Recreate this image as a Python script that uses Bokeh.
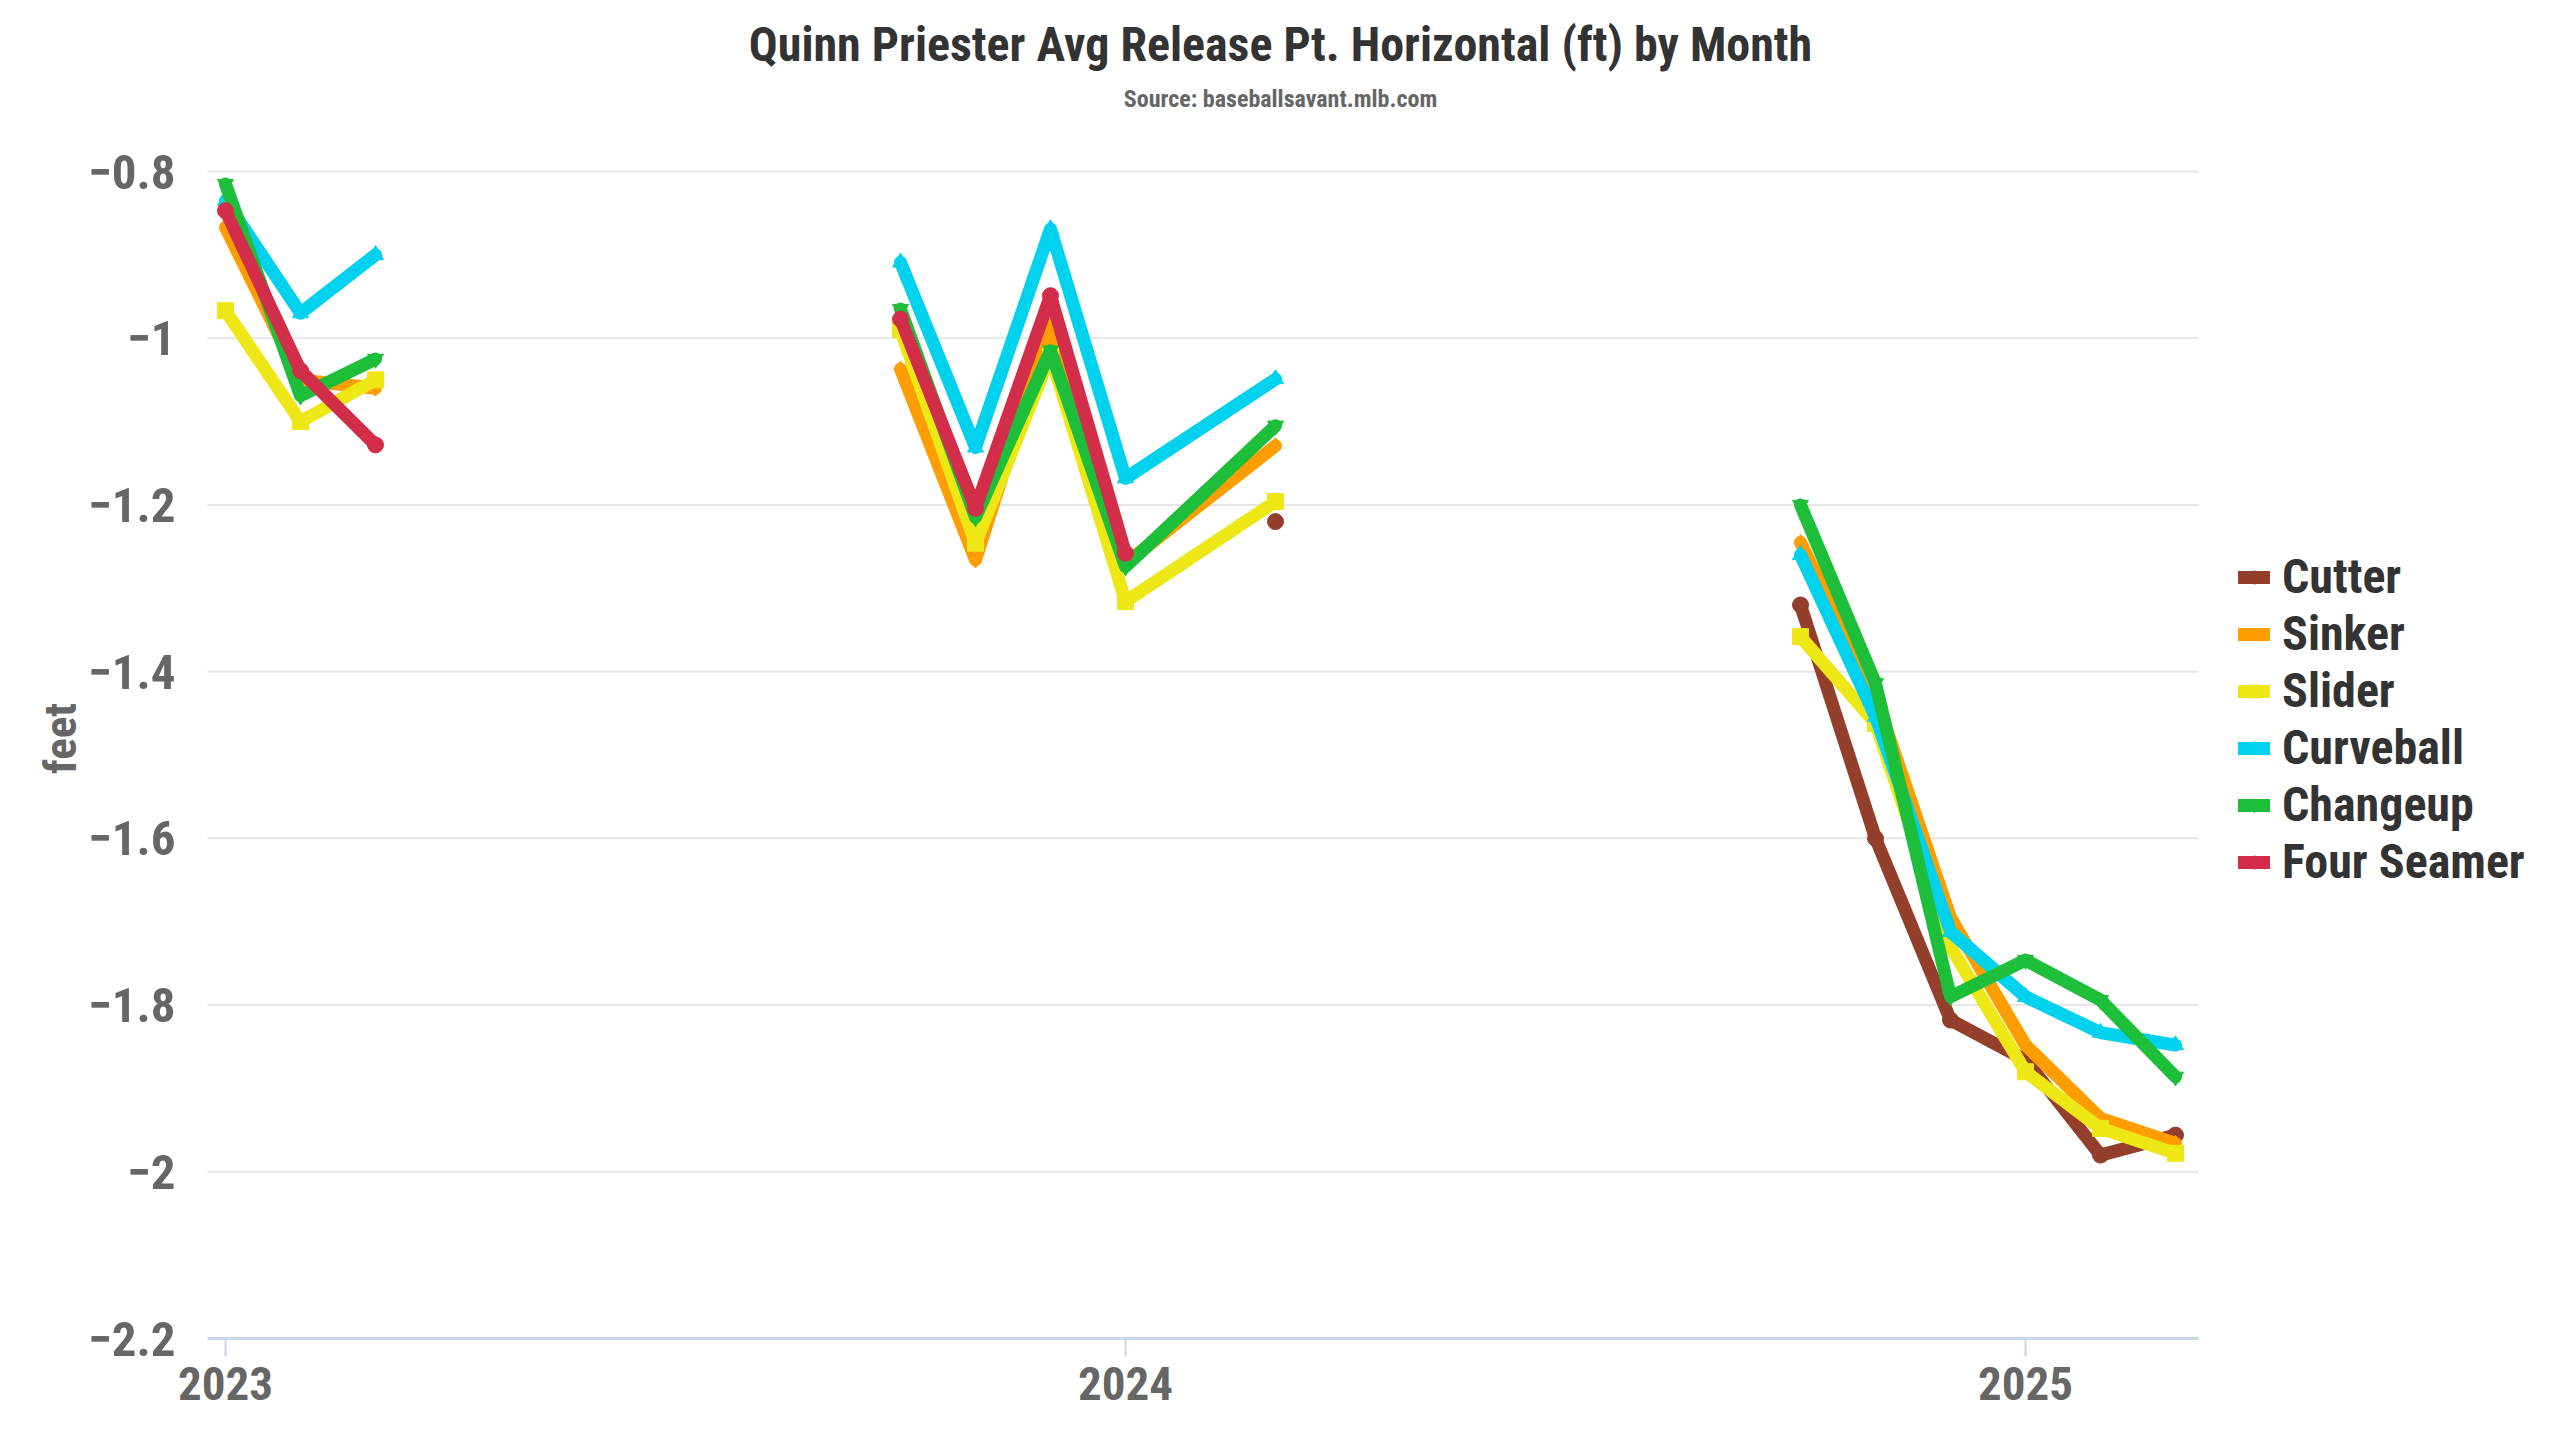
import math
from bokeh.plotting import figure
from bokeh.models import FixedTicker, Legend, LegendItem, Label
from bokeh.core.properties import value
from bokeh.embed import file_html
from bokeh.resources import INLINE

# ---- data -------------------------------------------------------------
months = ["2023-01", "2023-02", "2023-03",
          "2023-10", "2023-11", "2023-12", "2024-01", "2024-03",
          "2024-10", "2024-11", "2024-12", "2025-01", "2025-02", "2025-03"]

cutter      = [None, None, None,
               None, None, None, None, -1.22,
               -1.32, -1.60, -1.818, -1.866, -1.98, -1.956]
sinker      = [-0.867, -1.05, -1.06,
               -1.037, -1.266, -0.985, -1.27, -1.129,
               -1.245, -1.43, -1.695, -1.848, -1.936, -1.966]
slider      = [-0.967, -1.10, -1.05,
               -0.99, -1.246, -1.02, -1.316, -1.196,
               -1.358, -1.462, -1.73, -1.88, -1.948, -1.978]
curveball   = [-0.835, -0.97, -0.90,
               -0.909, -1.131, -0.869, -1.168, -1.049,
               -1.26, -1.454, -1.712, -1.79, -1.833, -1.848]
changeup    = [-0.815, -1.069, -1.025,
               -0.965, -1.215, -1.015, -1.274, -1.105,
               -1.20, -1.414, -1.79, -1.746, -1.794, -1.886]
four_seamer = [-0.847, -1.039, -1.128,
               -0.977, -1.204, -0.949, -1.258, None,
               None, None, None, None, None, None]

series_names = ["Cutter", "Sinker", "Slider", "Curveball", "Changeup", "Four Seamer"]
series_values = [cutter, sinker, slider, curveball, changeup, four_seamer]
series_colors = ["#933F2C", "#FE9D00", "#EEE716", "#00D1ED", "#1DBE3A", "#D22D49"]
series_markers = ["circle", "diamond", "square", "triangle", "inverted_triangle", "circle"]

x_ticks = [2023, 2024, 2025]
x_tick_labels = ["2023", "2024", "2025"]
y_ticks = [-2.2, -2, -1.8, -1.6, -1.4, -1.2, -1, -0.8]
y_tick_labels = ["\u22122.2", "\u22122", "\u22121.8", "\u22121.6", "\u22121.4", "\u22121.2", "\u22121", "\u22120.8"]

title_text = "Quinn Priester Avg Release Pt. Horizontal (ft) by Month"
subtitle_text = "Source: baseballsavant.mlb.com"
y_label = "feet"

# ---- layout / style ---------------------------------------------------
FONT = "Roboto Condensed, Liberation Sans Narrow, DejaVu Sans Condensed, Roboto"
W, H = 2556, 1436
PLOT_LEFT, PLOT_RIGHT, PLOT_TOP, PLOT_BOTTOM = 207, 2198, 171, 1338   # pixel box of the drawn plot area
TICK_LEN = 18
FRAME_BOTTOM = PLOT_BOTTOM + 22          # frame reaches a little below the axis line
FB = H - FRAME_BOTTOM
PX_PER_YEAR = 900.0
Y_LO, Y_HI = y_ticks[0], y_ticks[-1]
PX_PER_UNIT = (PLOT_BOTTOM - PLOT_TOP) / (Y_HI - Y_LO)

def px_to_x(px):
    return 2023 + (px - 225) / PX_PER_YEAR

def px_to_y(py):
    return Y_HI - (py - PLOT_TOP) / PX_PER_UNIT

X0, X_PLOT_END = px_to_x(PLOT_LEFT), px_to_x(PLOT_RIGHT)

def month_to_x(m):
    return int(m[:4]) + (int(m[5:7]) - 1) / 12.0

xvals = [month_to_x(m) for m in months]

p = figure(width=W, height=H, x_range=(px_to_x(0), px_to_x(W)),
           y_range=(px_to_y(FRAME_BOTTOM), px_to_y(0)),
           output_backend="svg", toolbar_location=None, title=None,
           min_border_left=0, min_border_right=0, min_border_top=0, min_border_bottom=FB)
p.outline_line_color = None
p.background_fill_color = "white"
p.border_fill_color = "white"

# x axis (library axis, below the frame): its labels
p.xaxis.ticker = FixedTicker(ticks=x_ticks)
p.xaxis.major_label_overrides = {t: l for t, l in zip(x_ticks, x_tick_labels)}
p.xaxis.axis_line_color = None
p.xaxis.major_tick_line_color = None
p.xaxis.major_tick_out = 0
p.xaxis.major_tick_in = 0
p.xaxis.minor_tick_line_color = None
p.xaxis.major_label_text_font = FONT
p.xaxis.major_label_text_font_style = "bold"
p.xaxis.major_label_text_font_size = "47px"
p.xaxis.major_label_text_color = "#666666"
p.xaxis.major_label_standoff = 6

# y axis: labels drawn at the tick values through the y scale
p.yaxis.visible = False
p.xgrid.grid_line_color = None
p.ygrid.grid_line_color = None

p.text(x=[px_to_x(175)] * len(y_ticks), y=y_ticks, text=y_tick_labels,
       text_align="right", text_baseline="middle",
       text_font=value(FONT), text_font_style="bold", text_font_size=value("49px"),
       text_color="#666666")
p.text(x=[px_to_x(60)], y=[px_to_y(738)], text=[y_label], angle=math.pi / 2,
       text_align="center", text_baseline="middle",
       text_font=value(FONT), text_font_style="bold", text_font_size=value("45px"),
       text_color="#666666")

# grid lines, axis line and x tick marks, limited to the plot area
grid_ticks = y_ticks[1:]
p.segment(x0=[X0] * len(grid_ticks), x1=[X_PLOT_END] * len(grid_ticks),
          y0=grid_ticks, y1=grid_ticks, line_color="#e6e6e6", line_width=2)
p.segment(x0=[X0], x1=[X_PLOT_END], y0=[Y_LO], y1=[Y_LO],
          line_color="#ccd6eb", line_width=3)
p.segment(x0=x_ticks, x1=x_ticks, y0=[Y_LO] * len(x_ticks),
          y1=[px_to_y(PLOT_BOTTOM + TICK_LEN)] * len(x_ticks),
          line_color="#ccd6eb", line_width=2)

# series
legend_items = []
for name, vals, color, marker in zip(series_names, series_values, series_colors, series_markers):
    lx, ly = [], []
    prev_x = None
    for x, v in zip(xvals, vals):
        if prev_x is not None and x - prev_x > 0.25:
            lx.append(float("nan")); ly.append(float("nan"))
        lx.append(x)
        ly.append(float("nan") if v is None else v)
        prev_x = x
    lr = p.line(lx, ly, line_width=13, line_color=color, line_join="round", line_cap="round")
    mx = [x for x, v in zip(xvals, vals) if v is not None]
    my = [v for v in vals if v is not None]
    sr = p.scatter(mx, my, marker=marker, size=16, fill_color=color, line_color=color)
    legend_items.append(LegendItem(label=name, renderers=[lr, sr]))

legend = Legend(items=legend_items, location=(2238, FRAME_BOTTOM - 890), orientation="vertical",
                padding=0, margin=0, spacing=0,
                glyph_width=32, glyph_height=40, label_standoff=12,
                label_text_font=FONT, label_text_font_style="bold",
                label_text_font_size="48px", label_text_color="#333333",
                label_text_baseline="middle",
                border_line_alpha=0, background_fill_alpha=0)
p.add_layout(legend)

# titles, centred on the page
p.add_layout(Label(x=px_to_x(1280), y=px_to_y(44), text=title_text,
                   text_align="center", text_baseline="middle",
                   text_font=FONT, text_font_style="bold", text_font_size="48px",
                   text_color="#333333"))
p.add_layout(Label(x=px_to_x(1280), y=px_to_y(98), text=subtitle_text,
                   text_align="center", text_baseline="middle",
                   text_font=FONT, text_font_style="bold", text_font_size="24px",
                   text_color="#666666"))

open("out.html", "w").write(file_html(p, INLINE))
